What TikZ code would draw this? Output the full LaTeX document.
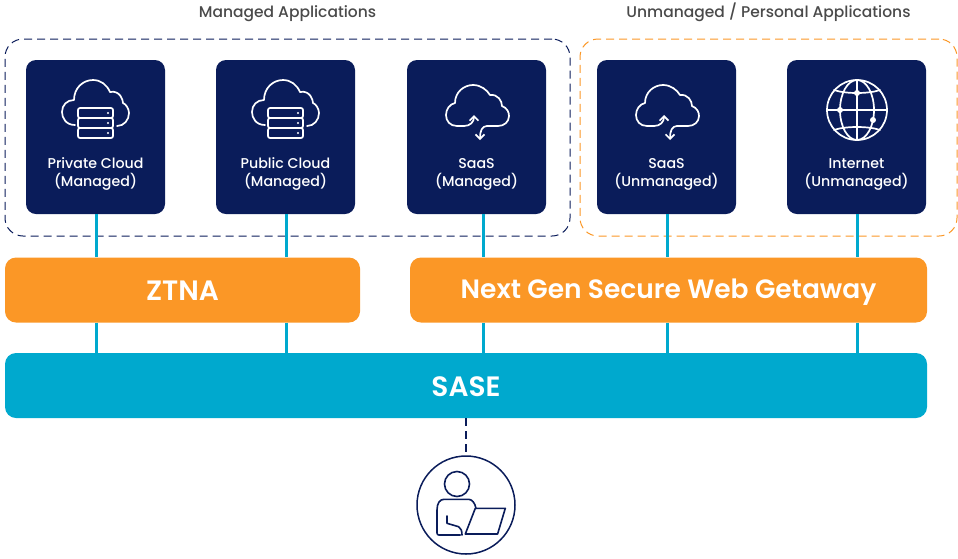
\documentclass[tikz,border=0pt]{standalone}
\usepackage{fontspec}
\setmainfont{Poppins}[BoldFont={Poppins Medium}]
\newfontfamily\barfont{Poppins SemiBold}
\usetikzlibrary{arrows.meta}
\definecolor{navy}{HTML}{0A1C5A}
\definecolor{barorange}{HTML}{FB9726}
\definecolor{teal}{HTML}{00A9CE}
\definecolor{headgray}{HTML}{4A4A4A}
\tikzset{
  card/.style={fill=navy, rounded corners=10pt, minimum width=139pt, minimum height=154pt, inner sep=0pt},
  cardtext/.style={text=white, align=center, font=\fontsize{14.2}{18}\selectfont\bfseries, inner sep=0pt, anchor=south, text depth=4pt},
  bar/.style={rounded corners=11pt, minimum height=65pt, inner sep=0pt, text=white, text height=17pt, text depth=0pt, font=\fontsize{26.5}{30}\selectfont\barfont},
  bigbar/.style={bar, text height=21pt, font=\fontsize{28}{30}\selectfont\barfont},
  group/.style={draw, dash pattern=on 8pt off 5pt, rounded corners=18pt, minimum height=197pt, inner sep=0pt, line width=1pt},
  heading/.style={text=headgray, font=\fontsize{15.5}{18}\selectfont\bfseries, inner sep=0pt, anchor=base},
  link/.style={teal, line width=3pt},
  iconline/.style={white, line width=1.7pt, line cap=round, line join=round},
  pics/cloudserver/.style={code={
    \draw[iconline] (-21,15) .. controls (-30,15) and (-34,8) .. (-34,2)
      .. controls (-34,-5) and (-29,-10) .. (-22,-10)
      .. controls (-22,-22) and (-13,-30) .. (-3,-30)
      .. controls (5,-30) and (11,-25) .. (14,-18)
      .. controls (24,-20) and (27,-10) .. (27,-7)
      .. controls (30,-6) and (33,-1) .. (33,3)
      .. controls (33,10) and (28,16) .. (21,16);
    \foreach \y in {-2,8,18} {
      \draw[iconline, rounded corners=2pt] (-18,\y) rectangle (17,\y+10);
      \fill[white] (12,\y+5) circle (1.2);
    }
  }},
  pics/cloudsync/.style={code={
    \draw[iconline] (-13,16) -- (-20,16) .. controls (-27,16) and (-31,11) .. (-31,5)
      .. controls (-31,-1) and (-27,-6) .. (-22,-7)
      .. controls (-22,-18) and (-13,-25) .. (-4,-25)
      .. controls (4,-25) and (10,-20) .. (13,-15)
      .. controls (21,-16) and (25,-9) .. (25,-4)
      .. controls (30,-2) and (32,2) .. (32,6)
      .. controls (32,12) and (27,16) .. (21,16) -- (10,16);
    \draw[iconline, -{Straight Barb[length=4.5pt,width=9pt]}] (-13,16) .. controls (-7,16) and (-3,12) .. (-3,5);
    \draw[iconline, -{Straight Barb[length=4.5pt,width=9pt]}] (10,16) .. controls (5,16) and (3,21) .. (3,30);
  }},
  pics/globeicon/.style={code={
    \draw[iconline] (0,0) circle (30);
    \draw[iconline] (0,0) ellipse (17 and 30);
    \draw[iconline] (0,-30) -- (0,30) (-30,0) -- (30,0);
    \draw[iconline] (-23,-20) .. controls (-12,-16) and (12,-16) .. (23,-20);
    \draw[iconline] (-23,20) .. controls (-12,16) and (12,16) .. (23,20);
    \fill[white] (0,-17) circle (3) (-17,0) circle (3) (16,10) circle (3);
  }},
}
\begin{document}
\begin{tikzpicture}[x=1pt, y=-1pt]
    \useasboundingbox (0,0) rectangle (958,558);
    % dashed groups
    \node[group, navy, minimum width=565pt] (managed) at (287.5,137.5) {};
    \node[group, barorange, minimum width=377pt] (unmanaged) at (768.5,137.5) {};
    \node[heading] (managedhead) at (287.5,17.5) {Managed Applications};
    \node[heading] (unmanagedhead) at (768.5,17.5) {Unmanaged / Personal Applications};
    % bars
    \node[bigbar, fill=barorange, minimum width=355pt] (ztna) at (182.5,290) {ZTNA};
    \node[bar, fill=barorange, minimum width=517pt] (ngswg) at (668.5,290) {Next Gen Secure Web Getaway};
    \node[bigbar, fill=teal, minimum width=922pt] (sase) at (466,385.5) {SASE};
    % cards, icons and links
    \foreach \i/\x/\lx/\ic/\txt/\via in {
      1/95.5/96/cloudserver/{Private Cloud\\(Managed)}/ztna,
      2/285.5/286/cloudserver/{Public Cloud\\(Managed)}/ztna,
      3/476.5/483/cloudsync/{SaaS\\(Managed)}/ngswg,
      4/666.5/667/cloudsync/{SaaS\\(Unmanaged)}/ngswg,
      5/856.5/857/globeicon/{Internet\\(Unmanaged)}/ngswg%
    } {
        \node[card] (c\i) at (\x,137) {};
        \pic at (\x+.5,110) {\ic};
        \node[cardtext] (t\i) at (\x,191) {\txt};
        \coordinate (l\i) at (\lx,214);
        \draw[link] (l\i) -- (l\i |- \via.north);
        \draw[link] (l\i |- \via.south) -- (l\i |- sase.north);
    }
    % user
    \node[draw=navy, circle, line width=1.5pt, minimum size=98pt, inner sep=0pt] (user) at (466,505) {};
    \draw[navy, line width=1.7pt, dash pattern=on 8pt off 5pt] (sase.south) -- (user.north);
    \begin{scope}[shift={(466,505)}, navy, line width=1.6pt, line join=round, line cap=round]
        \draw (-9,-21) circle (12.5);
        \draw (10,3.3) .. controls (9,-2) and (6,-5.7) .. (2.6,-5.7) -- (-22,-5.7)
          .. controls (-26,-5.7) and (-29,-2) .. (-29,5) -- (-29,28)
          .. controls (-29,29.5) and (-28,30) .. (-27,30) -- (-5.7,30);
        \draw (-19,11) -- (-19,18.3) -- (-7.4,21.7) .. controls (-5,23) and (-4,26) .. (-4,30);
        \draw (9.3,3.3) -- (39.3,3.3) -- (31.6,29) -- (-0.7,29) -- cycle;
    \end{scope}
\end{tikzpicture}
\end{document}
